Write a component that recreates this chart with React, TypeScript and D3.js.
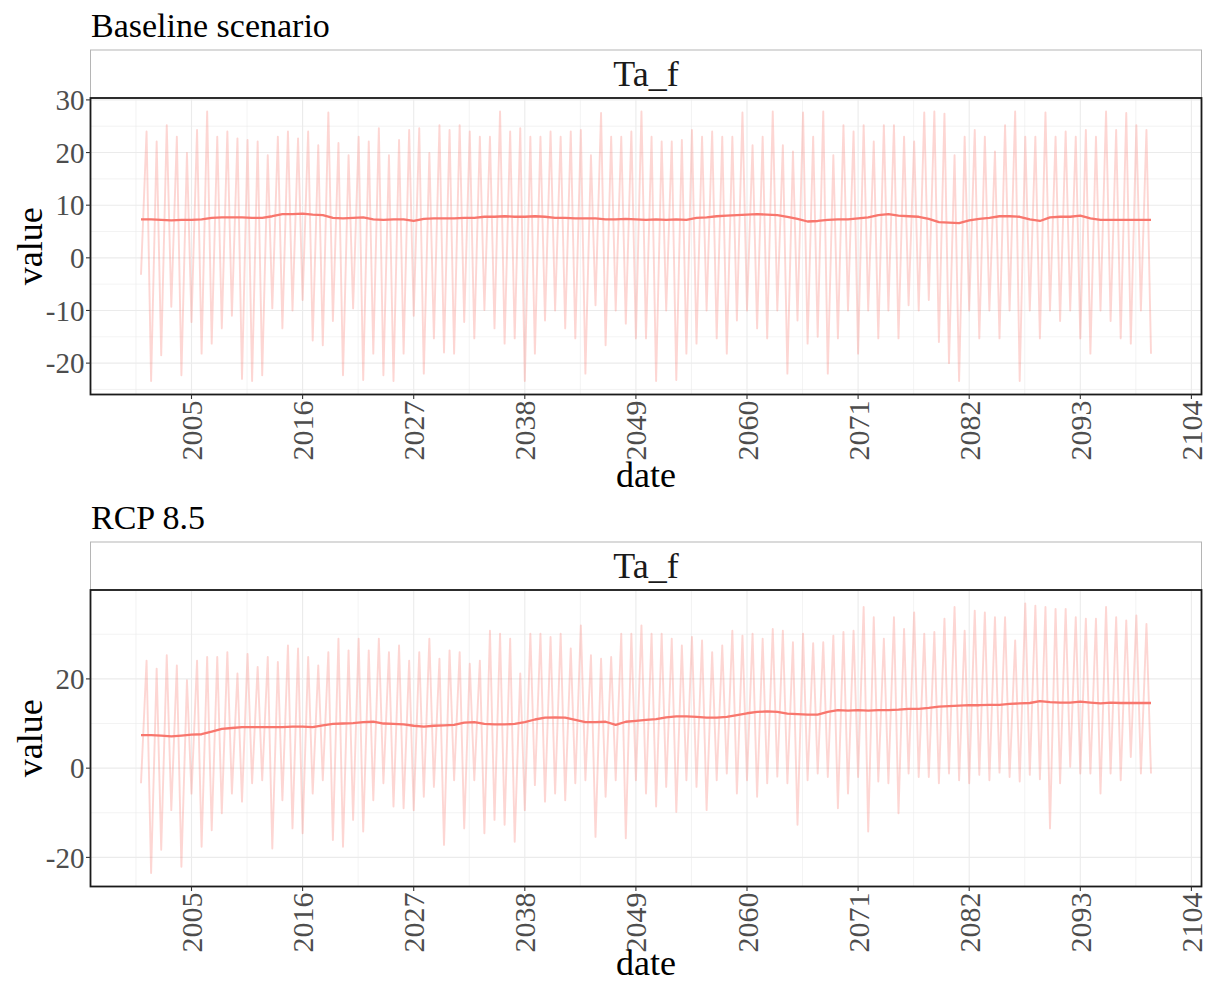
import React from "react";
import * as d3 from "d3";

// time axis
const FIRST_YEAR = 2000;
const X_TICKS = [2005, 2016, 2027, 2038, 2049, 2060, 2071, 2082, 2093, 2104];

// Baseline scenario: summer peaks (Jul 2000..2099), winter lows (Jan 2000..2100), smoothed mean (2000..2100)
const baseSummer = [
  24.0, 22.1, 25.2, 23.0, 19.9, 24.3, 27.8, 23.0, 24.0, 22.7,
  22.4, 22.1, 19.5, 23.0, 24.0, 22.7, 24.0, 21.4, 27.6, 21.8,
  19.5, 23.0, 22.1, 24.6, 19.5, 22.4, 24.3, 24.6, 19.9, 25.2,
  24.3, 25.2, 24.0, 23.0, 23.0, 27.8, 24.0, 24.6, 23.0, 23.0,
  24.0, 23.0, 24.0, 24.3, 19.5, 27.5, 23.0, 23.0, 24.0, 27.8,
  23.0, 22.1, 22.1, 22.4, 24.3, 23.0, 24.0, 23.0, 23.0, 27.6,
  21.4, 23.0, 27.8, 21.4, 20.2, 27.6, 23.0, 27.8, 19.5, 25.2,
  24.0, 25.2, 22.1, 25.2, 25.2, 23.0, 22.1, 27.6, 27.8, 27.4,
  19.5, 23.0, 24.3, 23.0, 20.2, 25.2, 27.8, 23.0, 23.0, 27.6,
  23.0, 24.0, 23.0, 24.3, 23.0, 27.8, 24.3, 27.5, 25.2, 24.3,
];
const baseWinter = [
  -3.2,
  -23.4, -18.5, -9.3, -22.3, -12.2, -18.2, -16.3, -13.4, -11.0, -23.0,
  -23.4, -22.3, -9.6, -13.4, -10.0, -8.0, -15.7, -16.6, -12.0, -22.3,
  -9.6, -23.2, -18.2, -22.3, -23.4, -18.2, -11.0, -22.0, -15.3, -18.0,
  -18.2, -12.2, -15.3, -9.9, -13.4, -16.3, -15.3, -23.4, -18.2, -11.9,
  -10.0, -13.4, -15.3, -22.0, -9.0, -16.6, -10.0, -12.5, -15.3, -15.3,
  -23.4, -10.0, -23.2, -18.2, -16.3, -10.0, -15.3, -18.2, -11.9, -10.0,
  -13.4, -15.3, -10.0, -22.0, -11.9, -16.3, -15.0, -22.0, -15.3, -10.0,
  -18.2, -10.0, -15.3, -10.0, -15.3, -9.0, -10.0, -8.0, -16.0, -20.0,
  -23.4, -10.0, -15.3, -10.0, -15.3, -10.0, -23.4, -10.0, -15.3, -10.0,
  -12.0, -10.0, -15.3, -18.2, -10.0, -12.0, -15.3, -16.3, -10.0, -18.2,
];
const baseTrend = [
  7.3, 7.3, 7.2, 7.1, 7.2, 7.2, 7.3, 7.6, 7.7, 7.7,
  7.7, 7.6, 7.6, 7.9, 8.3, 8.3, 8.4, 8.2, 8.1, 7.6,
  7.5, 7.6, 7.7, 7.3, 7.2, 7.3, 7.3, 7.0, 7.4, 7.5,
  7.5, 7.5, 7.6, 7.6, 7.8, 7.8, 7.9, 7.8, 7.8, 7.9,
  7.8, 7.6, 7.6, 7.5, 7.5, 7.5, 7.3, 7.3, 7.4, 7.3,
  7.2, 7.3, 7.2, 7.3, 7.2, 7.6, 7.7, 7.9, 8.0, 8.1,
  8.2, 8.3, 8.2, 8.1, 7.8, 7.4, 6.9, 7.0, 7.2, 7.3,
  7.3, 7.5, 7.7, 8.1, 8.3, 8.0, 7.9, 7.8, 7.4, 6.8,
  6.7, 6.6, 7.1, 7.4, 7.6, 7.9, 7.9, 7.8, 7.3, 7.0,
  7.7, 7.8, 7.8, 8.0, 7.5, 7.2, 7.2, 7.2, 7.2, 7.2,
  7.2,
];
const baseYTicks = [-20, -10, 0, 10, 20, 30];

// RCP 8.5
const rcpSummer = [
  24.1, 22.3, 25.3, 23.0, 19.7, 24.1, 24.9, 24.9, 26.0, 21.2,
  25.6, 22.7, 24.9, 23.8, 27.5, 26.8, 24.9, 23.0, 26.0, 29.0,
  26.4, 29.0, 26.4, 29.0, 26.0, 27.5, 24.1, 26.0, 29.0, 24.5,
  26.4, 26.0, 23.4, 24.1, 30.8, 30.1, 29.0, 21.2, 30.1, 30.1,
  29.4, 30.1, 26.8, 32.0, 25.3, 24.5, 24.9, 30.1, 30.1, 32.0,
  30.1, 30.1, 29.0, 27.5, 29.4, 28.6, 26.0, 27.5, 30.8, 29.7,
  30.1, 29.0, 31.2, 30.8, 28.2, 30.1, 28.0, 28.2, 29.7, 30.5,
  30.8, 36.1, 33.8, 29.0, 33.8, 31.2, 34.9, 30.1, 30.5, 33.5,
  36.1, 30.8, 35.3, 34.9, 33.8, 33.8, 28.6, 36.9, 36.4, 36.1,
  35.7, 35.7, 33.8, 33.5, 33.5, 36.1, 33.8, 33.1, 34.2, 32.3,
];
const rcpWinter = [
  -3.4,
  -23.5, -18.3, -9.4, -22.1, -5.7, -17.6, -13.9, -10.1, -5.7, -7.5,
  -3.4, -2.7, -18.0, -7.2, -13.5, -14.6, -5.7, -2.7, -16.1, -17.6,
  -11.6, -14.2, -7.2, -3.4, -8.6, -9.0, -9.4, -6.4, -4.2, -17.2,
  -2.7, -13.5, -2.7, -14.6, -11.6, -12.7, -16.5, -9.4, -3.8, -7.5,
  -5.7, -7.2, -3.4, -2.7, -15.4, -6.4, -2.7, -15.7, -2.7, -5.7,
  -8.6, -4.2, -9.8, -2.7, -4.2, -9.4, -2.7, -1.2, -5.7, -2.7,
  -6.4, -3.4, -1.9, -3.4, -12.7, -2.7, -1.2, -2.0, -9.0, -5.7,
  -2.0, -14.2, -3.0, -3.4, -10.1, -1.2, -2.0, -2.0, -3.4, -1.2,
  -2.7, -3.4, -1.5, -2.7, -1.0, -2.0, -3.0, -1.5, -2.5, -13.5,
  -3.4, 0.3, -1.2, -1.2, -5.7, -1.2, -2.7, 2.5, -1.2, -1.2,
];
const rcpTrend = [
  7.4, 7.4, 7.3, 7.1, 7.3, 7.5, 7.6, 8.2, 8.8, 9.0,
  9.2, 9.2, 9.2, 9.2, 9.2, 9.3, 9.3, 9.2, 9.6, 9.9,
  10.0, 10.1, 10.3, 10.4, 10.0, 9.9, 9.8, 9.5, 9.3, 9.5,
  9.6, 9.7, 10.2, 10.3, 9.9, 9.8, 9.8, 9.9, 10.3, 10.9,
  11.3, 11.4, 11.3, 10.8, 10.3, 10.3, 10.4, 9.7, 10.4, 10.6,
  10.8, 11.0, 11.4, 11.6, 11.6, 11.5, 11.3, 11.3, 11.5, 11.9,
  12.3, 12.6, 12.7, 12.6, 12.2, 12.1, 12.0, 12.0, 12.6, 13.0,
  12.9, 13.0, 12.9, 13.0, 13.0, 13.1, 13.3, 13.3, 13.5, 13.8,
  13.9, 14.0, 14.1, 14.1, 14.2, 14.2, 14.4, 14.5, 14.6, 15.0,
  14.8, 14.7, 14.7, 14.9, 14.7, 14.5, 14.7, 14.6, 14.6, 14.6,
  14.6,
];
const rcpYTicks = [-20, 0, 20];

const W = 1212;
const H = 983;
const LEFT = 90.5;
const RIGHT = 1201.5;
const SERIF = '"Liberation Serif", "Times New Roman", serif';
const LINE_COL = "#F8766D";
const GRID = "#ebebeb";
const TICK_TXT = "#4d4d4d";

type PanelProps = {
  y0: number;
  title: string;
  summer: number[];
  winter: number[];
  trend: number[];
  yTicks: number[];
};

const Panel = ({ y0, title, summer, winter, trend, yTicks }: PanelProps) => {
  const pTop = y0 + 98;
  const pBot = y0 + 394.5;

  // ggplot style 5% expansion
  const x = d3.scaleLinear().domain([1995, 2105]).range([LEFT, RIGHT]);
  const [lo, hi] = d3.extent([...summer, ...winter]) as [number, number];
  const pad = (hi - lo) * 0.05;
  const y = d3.scaleLinear().domain([lo - pad, hi + pad]).range([pBot, pTop]);

  // seasonal series: Jan low, Jul peak of each year
  const seasonal: [number, number][] = [];
  summer.forEach((s, i) => {
    seasonal.push([FIRST_YEAR + i, winter[i]]);
    seasonal.push([FIRST_YEAR + i + 0.55, s]);
  });
  seasonal.push([FIRST_YEAR + summer.length, winter[winter.length - 1]]);
  const trendPts: [number, number][] = trend.map((v, i) => [FIRST_YEAR + i, v]);

  const line = d3
    .line<[number, number]>()
    .x((d) => x(d[0]))
    .y((d) => y(d[1]));

  const yStep = yTicks[1] - yTicks[0];
  const yMinor = d3
    .range(yTicks[0] - yStep / 2, yTicks[yTicks.length - 1] + yStep, yStep)
    .filter((v) => v > y.domain()[0] && v < y.domain()[1]);
  const xStep = X_TICKS[1] - X_TICKS[0];
  const xMinor = d3
    .range(X_TICKS[0] - xStep / 2, X_TICKS[X_TICKS.length - 1], xStep)
    .filter((v) => v > 1995 && v < 2105);
  const yMajor = yTicks.filter((v) => v > y.domain()[0] && v < y.domain()[1]);

  const dateY = Math.min(y0 + 487, H - 8);

  return (
    <g>
      <text x={91} y={y0 + 37} fontFamily={SERIF} fontSize={34} fill="#000">
        {title}
      </text>

      {/* strip */}
      <rect x={LEFT} y={y0 + 50} width={RIGHT - LEFT} height={48} fill="#fff" stroke="#b5b5b5" strokeWidth={1} />
      <text x={(LEFT + RIGHT) / 2} y={y0 + 86} textAnchor="middle" fontFamily={SERIF} fontSize={36} fill="#1a1a1a">
        Ta_f
      </text>

      {/* grid */}
      {xMinor.map((v) => (
        <line key={"xm" + v} x1={x(v)} x2={x(v)} y1={pTop} y2={pBot} stroke={GRID} strokeWidth={0.6} />
      ))}
      {yMinor.map((v) => (
        <line key={"ym" + v} x1={LEFT} x2={RIGHT} y1={y(v)} y2={y(v)} stroke={GRID} strokeWidth={0.6} />
      ))}
      {X_TICKS.map((v) => (
        <line key={"xg" + v} x1={x(v)} x2={x(v)} y1={pTop} y2={pBot} stroke={GRID} strokeWidth={1.1} />
      ))}
      {yMajor.map((v) => (
        <line key={"yg" + v} x1={LEFT} x2={RIGHT} y1={y(v)} y2={y(v)} stroke={GRID} strokeWidth={1.1} />
      ))}

      {/* data */}
      <path d={line(seasonal) ?? ""} fill="none" stroke={LINE_COL} strokeOpacity={0.3} strokeWidth={1.9} strokeLinejoin="round" />
      <path d={line(trendPts) ?? ""} fill="none" stroke={LINE_COL} strokeWidth={2.3} strokeLinejoin="round" />

      {/* panel border */}
      <rect x={LEFT} y={pTop} width={RIGHT - LEFT} height={pBot - pTop} fill="none" stroke="#1a1a1a" strokeWidth={1.8} />

      {/* y axis */}
      {yMajor.map((v) => (
        <g key={"yt" + v}>
          <line x1={LEFT - 4.5} x2={LEFT} y1={y(v)} y2={y(v)} stroke="#333" strokeWidth={1.1} />
          <text x={LEFT - 6} y={y(v)} dy="0.35em" textAnchor="end" fontFamily={SERIF} fontSize={29} fill={TICK_TXT}>
            {v}
          </text>
        </g>
      ))}

      {/* x axis */}
      {X_TICKS.map((v) => (
        <g key={"xt" + v}>
          <line x1={x(v)} x2={x(v)} y1={pBot} y2={pBot + 4.5} stroke="#333" strokeWidth={1.1} />
          <text
            transform={`translate(${x(v)},${pBot + 6}) rotate(-90)`}
            dy="0.35em"
            textAnchor="end"
            fontFamily={SERIF}
            fontSize={30}
            fill={TICK_TXT}
          >
            {v}
          </text>
        </g>
      ))}

      <text x={(LEFT + RIGHT) / 2} y={dateY} textAnchor="middle" fontFamily={SERIF} fontSize={36} fill="#000">
        date
      </text>
      <text
        transform={`translate(42,${(pTop + pBot) / 2}) rotate(-90)`}
        textAnchor="middle"
        fontFamily={SERIF}
        fontSize={36}
        fill="#000"
      >
        value
      </text>
    </g>
  );
};

export default function App() {
  return (
    <svg
      width={W}
      height={H}
      viewBox={`0 0 ${W} ${H}`}
      style={{ position: "absolute", left: 0, top: 0, background: "#fff" }}
    >
      <rect width={W} height={H} fill="#fff" />
      <Panel y0={0} title="Baseline scenario" summer={baseSummer} winter={baseWinter} trend={baseTrend} yTicks={baseYTicks} />
      <Panel y0={492} title="RCP 8.5" summer={rcpSummer} winter={rcpWinter} trend={rcpTrend} yTicks={rcpYTicks} />
    </svg>
  );
}
